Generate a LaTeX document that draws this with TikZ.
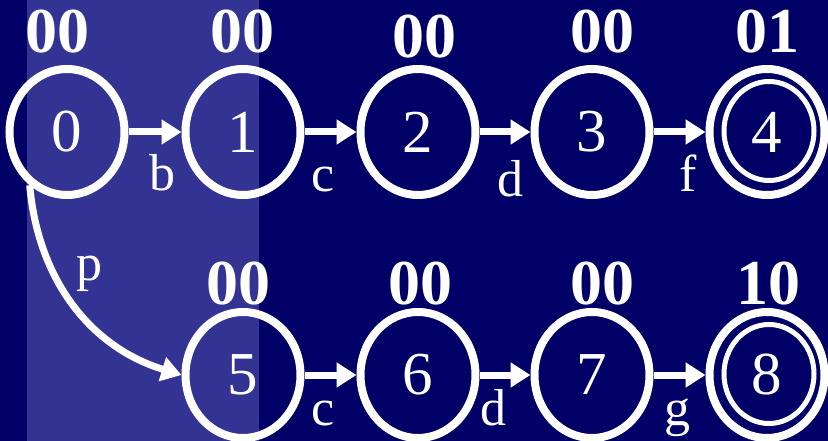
\documentclass[tikz,border=0pt]{standalone}
\usepackage{fontspec}
\setmainfont{Liberation Serif}
\usetikzlibrary{arrows.meta, shapes.geometric}
\definecolor{slidenavy}{HTML}{000066}
\definecolor{bandblue}{HTML}{333393}

\begin{document}
\begin{tikzpicture}[x=1pt, y=-1pt,
    state/.style={draw=white, line width=8pt, ellipse, minimum width=115pt,
                  minimum height=126pt, inner sep=0pt, text=white,
                  font=\fontsize{61}{61}\selectfont},
    ring/.style={draw=white, line width=5pt, ellipse, minimum width=90pt,
                 minimum height=99pt, inner sep=0pt},
    bits/.style={text=white, inner sep=0pt, font=\fontsize{64}{64}\selectfont\bfseries},
    sym/.style={text=white, inner sep=0pt, font=\fontsize{52}{52}\selectfont},
    trans/.style={draw=white, line width=7pt, -{Triangle[length=20pt, width=24pt]}}]
        \useasboundingbox (0,0) rectangle (828,441);
        \fill[slidenavy] (0,0) rectangle (828,441);
        \fill[bandblue] (27,0) rectangle (259,441);
        % states
        \node[state] (q0) at (67,132) {0};
        \node[state] (q1) at (243,132) {1};
        \node[state] (q2) at (418,132) {2};
        \node[state] (q3) at (592,132) {3};
        \node[state] (q4) at (767,132) {4};
        \node[ring] (q4in) at (769,131) {};
        \node[state] (q5) at (243,375) {5};
        \node[state] (q6) at (418,375) {6};
        \node[state] (q7) at (592,375) {7};
        \node[state] (q8) at (767,375) {8};
        \node[ring] (q8in) at (769,374) {};
        % output bits
        \node[bits] (o0) at (57,32) {00};
        \node[bits] (o1) at (242,32) {00};
        \node[bits] (o2) at (424,37) {00};
        \node[bits] (o3) at (602,32) {00};
        \node[bits] (o4) at (767,32) {01};
        \node[bits] (o5) at (238,284) {00};
        \node[bits] (o6) at (420,284) {00};
        \node[bits] (o7) at (602,284) {00};
        \node[bits] (o8) at (768,284) {10};
        % transitions
        \draw[trans] (q0) -- (q1);
        \draw[trans] (q1) -- (q2);
        \draw[trans] (q2) -- (q3);
        \draw[trans] (q3) -- (q4);
        \draw[trans] (q5) -- (q6);
        \draw[trans] (q6) -- (q7);
        \draw[trans] (q7) -- (q8);
        \draw[trans] (q0.235) to[out=-85, in=163] (q5.west);
        \node[sym] (lb) at (162,173) {b};
        \node[sym] (lc1) at (323,180) {c};
        \node[sym] (ld1) at (510,179) {d};
        \node[sym] (lf) at (688,173) {f};
        \node[sym] (lp) at (89,274) {p};
        \node[sym] (lc2) at (323,414) {c};
        \node[sym] (ld2) at (493,408) {d};
        \node[sym] (lg) at (677,418) {g};
      \end{tikzpicture}
\end{document}
